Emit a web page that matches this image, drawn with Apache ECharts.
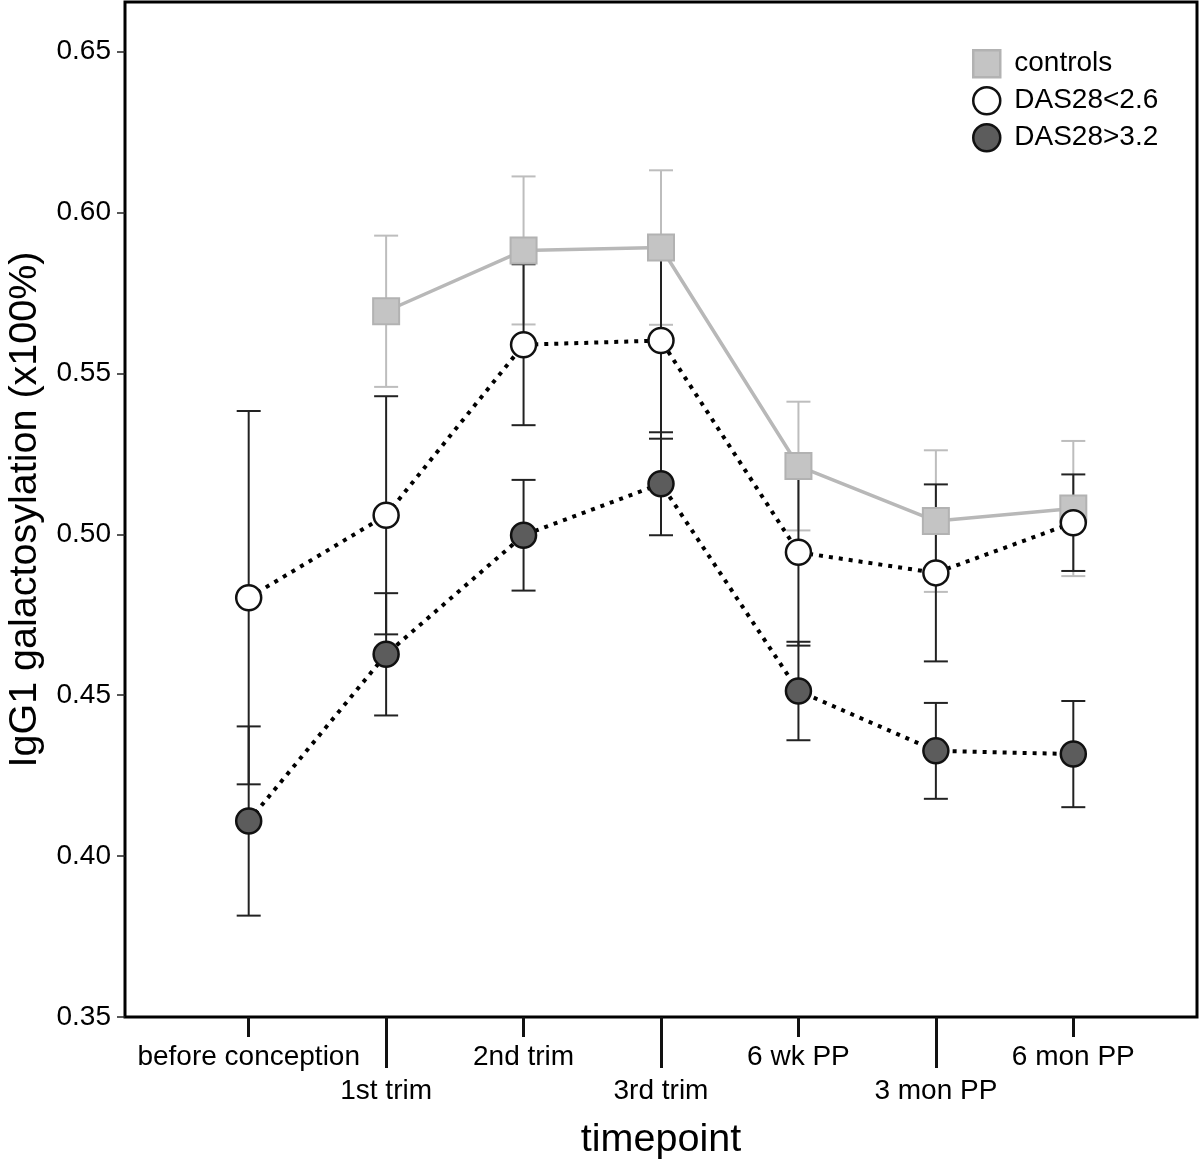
<!DOCTYPE html>
<html>
<head>
<meta charset="utf-8">
<script src="https://cdn.jsdelivr.net/npm/echarts@6/dist/echarts.min.js"></script>
<style>
html,body{margin:0;padding:0;background:#fff;}
#chart{width:1200px;height:1162px;}
</style>
</head>
<body>
<div id="chart"></div>
<script>
// ---- data ----
const categories = ['before conception', '1st trim', '2nd trim', '3rd trim', '6 wk PP', '3 mon PP', '6 mon PP'];
const controlsMean = [null, 0.5693, 0.5882, 0.5891, 0.5212, 0.5041, 0.5080];
const controlsErr  = [null, 0.0235, 0.0230, 0.0240, 0.0200, 0.0220, 0.0210];
const lowMean  = [0.4803, 0.5059, 0.5589, 0.5602, 0.4944, 0.4880, 0.5036];
const lowErr   = [0.0580, 0.0370, 0.0250, 0.0305, 0.0290, 0.0275, 0.0150];
const highMean = [0.4109, 0.4627, 0.4997, 0.5157, 0.4513, 0.4327, 0.4317];
const highErr  = [0.0294, 0.0190, 0.0172, 0.0160, 0.0153, 0.0149, 0.0165];
const yTicks = [0.35, 0.40, 0.45, 0.50, 0.55, 0.60, 0.65];
const seriesNames = ['controls', 'DAS28<2.6', 'DAS28>3.2'];

const FONT = '"Liberation Sans", Arial, Helvetica, sans-serif';

function pts(mean) {
  const out = [];
  mean.forEach((v, i) => { if (v != null) out.push([i, v]); });
  return out;
}
function errPts(mean, err) {
  const out = [];
  mean.forEach((v, i) => { if (v != null) out.push([i, v, err[i]]); });
  return out;
}
function errRender(color, width) {
  return function (params, api) {
    const x = api.value(0), y = api.value(1), e = api.value(2);
    const top = api.coord([x, y + e]);
    const bot = api.coord([x, y - e]);
    const hw = 12;
    const style = { stroke: color, lineWidth: width };
    return {
      type: 'group',
      children: [
        { type: 'line', shape: { x1: top[0], y1: top[1], x2: bot[0], y2: bot[1] }, style },
        { type: 'line', shape: { x1: top[0] - hw, y1: top[1], x2: top[0] + hw, y2: top[1] }, style },
        { type: 'line', shape: { x1: bot[0] - hw, y1: bot[1], x2: bot[0] + hw, y2: bot[1] }, style }
      ]
    };
  };
}

const chart = echarts.init(document.getElementById('chart'), null, { renderer: 'canvas' });

const xBase = {
  type: 'value', min: -0.9, max: 6.9, position: 'bottom', offset: 0,
  axisLine: { show: false, onZero: false }, splitLine: { show: false }
};

const option = {
  animation: false,
  backgroundColor: '#fff',
  textStyle: { fontFamily: FONT },
  grid: {
    left: 125, right: 3, top: 2, bottom: 145,
    containLabel: false, outerBoundsMode: 'none',
    show: true, borderColor: '#000', borderWidth: 3, backgroundColor: 'transparent'
  },
  legend: {
    orient: 'vertical', left: 967, top: 44,
    itemWidth: 27, itemHeight: 27, itemGap: 7.5,
    textStyle: { fontSize: 28, color: '#000', fontFamily: FONT, padding: [0, 0, 0, 9] },
    itemStyle: { borderWidth: 2.5 },
    selectedMode: false,
    data: [
      { name: seriesNames[0], icon: 'rect' },
      { name: seriesNames[1], icon: 'circle' },
      { name: seriesNames[2], icon: 'circle' }
    ]
  },
  xAxis: [
    Object.assign({}, xBase, {
      name: 'timepoint', nameLocation: 'middle', nameGap: 103,
      nameTextStyle: { fontSize: 39.5, color: '#000', fontFamily: FONT },
      axisTick: { show: true, customValues: [0, 2, 4, 6], length: 20, lineStyle: { color: '#111', width: 3 } },
      axisLabel: { customValues: [0, 2, 4, 6], margin: 26, fontSize: 28, color: '#000', fontFamily: FONT,
        formatter: v => categories[Math.round(v)] }
    }),
    Object.assign({}, xBase, {
      axisTick: { show: true, customValues: [1, 3, 5], length: 51, lineStyle: { color: '#111', width: 3 } },
      axisLabel: { customValues: [1, 3, 5], margin: 60, fontSize: 28, color: '#000', fontFamily: FONT,
        formatter: v => categories[Math.round(v)] }
    })
  ],
  yAxis: {
    type: 'value', min: 0.35, max: 0.6654,
    name: 'IgG1 galactosylation (x100%)', nameLocation: 'middle', nameGap: 75,
    nameTextStyle: { fontSize: 39.5, color: '#000', fontFamily: FONT },
    axisLine: { show: false, onZero: false }, splitLine: { show: false },
    axisTick: { show: true, customValues: yTicks, length: 8, lineStyle: { color: '#222', width: 1.5 } },
    axisLabel: { customValues: yTicks, margin: 14, fontSize: 28, color: '#000', fontFamily: FONT,
      formatter: v => v.toFixed(2) }
  },
  series: [
    {
      type: 'custom', name: 'controls-err', xAxisIndex: 0, z: 1,
      renderItem: errRender('#bdbdbd', 2), data: errPts(controlsMean, controlsErr),
      encode: { x: 0, y: 1 }, silent: true
    },
    {
      type: 'custom', name: 'low-err', xAxisIndex: 0, z: 2,
      renderItem: errRender('#222', 2), data: errPts(lowMean, lowErr),
      encode: { x: 0, y: 1 }, silent: true
    },
    {
      type: 'custom', name: 'high-err', xAxisIndex: 0, z: 2,
      renderItem: errRender('#222', 2), data: errPts(highMean, highErr),
      encode: { x: 0, y: 1 }, silent: true
    },
    {
      type: 'line', name: seriesNames[0], xAxisIndex: 0, z: 3,
      data: pts(controlsMean),
      symbol: 'rect', symbolSize: 26, showSymbol: true, showAllSymbol: true,
      lineStyle: { color: '#b8b8b8', width: 3.5 },
      itemStyle: { color: '#c4c4c4', borderColor: '#b2b2b2', borderWidth: 2 }
    },
    {
      type: 'line', name: seriesNames[1], xAxisIndex: 0, z: 4,
      data: pts(lowMean),
      symbol: 'circle', symbolSize: 25, showSymbol: true, showAllSymbol: true,
      lineStyle: { color: '#000', width: 4, type: [4, 6] },
      itemStyle: { color: '#ffffff', borderColor: '#111', borderWidth: 2.5 }
    },
    {
      type: 'line', name: seriesNames[2], xAxisIndex: 0, z: 5,
      data: pts(highMean),
      symbol: 'circle', symbolSize: 25, showSymbol: true, showAllSymbol: true,
      lineStyle: { color: '#000', width: 4, type: [4, 6] },
      itemStyle: { color: '#5c5c5c', borderColor: '#111', borderWidth: 2.5 }
    }
  ]
};
chart.setOption(option);
</script>
</body>
</html>
